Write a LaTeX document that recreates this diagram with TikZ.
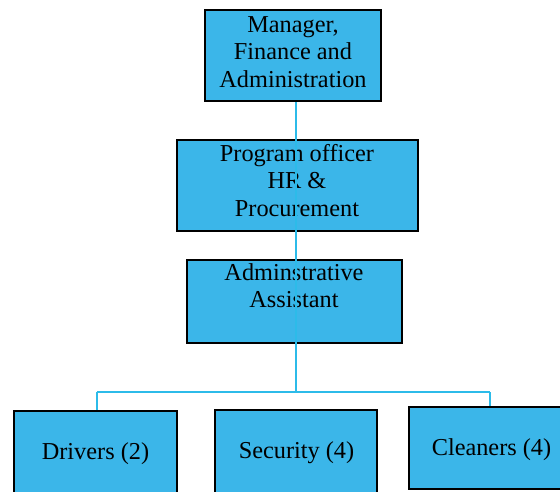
\documentclass[tikz,border=0pt]{standalone}
\usepackage{fontspec}
\setmainfont{Liberation Serif}
\definecolor{boxfill}{HTML}{3BB6E9}
\definecolor{linkblue}{HTML}{2CBBE9}
\tikzset{
  post/.style={draw=black, line width=2.7pt, fill=boxfill, rectangle, inner sep=0pt},
  caption/.style={anchor=north, inner sep=0pt, align=center, text=black,
    font=\fontsize{24.3}{27.5}\selectfont},
  link/.style={draw=linkblue, line width=2.2pt}
}
\newcommand{\firstline}{\rule{0pt}{17pt}}
\begin{document}
\begin{tikzpicture}[x=1pt, y=-1pt]
  \useasboundingbox (0,0) rectangle (560,491);
  % positions
  \node[post, minimum width=176pt, minimum height=91pt] (mgr) at (293,55.5) {};
  \node[post, minimum width=241pt, minimum height=91pt] (po) at (297.5,185.5) {};
  \node[post, minimum width=215pt, minimum height=83pt] (aa) at (294.5,301.5) {};
  \node[post, minimum width=163pt, minimum height=82pt] (drv) at (95.5,452) {};
  \node[post, minimum width=162pt, minimum height=83pt] (sec) at (296,451.5) {};
  \node[post, minimum width=156pt, minimum height=82pt] (cln) at (487,448) {};
  % titles
  \node[caption] (tmgr) at (293,15) {\firstline Manager,\\Finance and\\Administration};
  \node[caption] (tpo) at (297,144) {\firstline Program officer\\HR \&\\Procurement};
  \node[caption] (taa) at (294,263) {\firstline Adminstrative\\Assistant};
  \node[caption] (tdrv) at (95.5,442) {\firstline Drivers (2)};
  \node[caption] (tsec) at (296.5,441) {\firstline Security (4)};
  \node[caption] (tcln) at (491.5,438) {\firstline Cleaners (4)};
  % reporting lines
  \coordinate (bus) at (296,392);
  \coordinate (busl) at (97,392);
  \coordinate (busr) at (490,392);
  \draw[link] (mgr.south -| bus) -- (bus);
  \draw[link] (busl) -- (busr);
  \draw[link] (busl) -- (busl |- drv.north);
  \draw[link] (busr) -- (busr |- cln.north);
\end{tikzpicture}
\end{document}
